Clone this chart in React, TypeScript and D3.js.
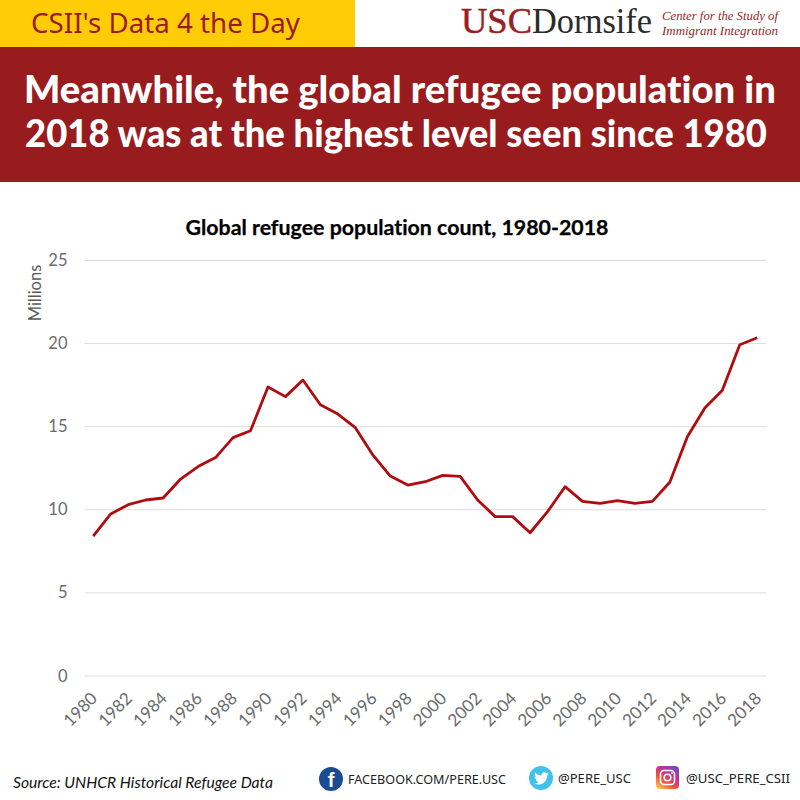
import React from "react";
import * as d3 from "d3";

const years = d3.range(1980, 2019).map(String);
const refugees = [8.42, 9.75, 10.31, 10.59, 10.71, 11.85, 12.6, 13.14, 14.34, 14.76, 17.39, 16.81, 17.81, 16.32, 15.76, 14.94, 13.3, 12.03, 11.49, 11.69, 12.07, 12.01, 10.59, 9.59, 9.59, 8.62, 9.89, 11.39, 10.51, 10.39, 10.55, 10.39, 10.51, 11.67, 14.4, 16.12, 17.19, 19.93, 20.35];
const yTicks = [0, 5, 10, 15, 20, 25];
const badgeText = "CSII's Data 4 the Day";
const headline = ["Meanwhile, the global refugee population in", "2018 was at the highest level seen since 1980"];
const chartTitle = "Global refugee population count, 1980-2018";
const yLabel = "Millions";
const sourceText = "Source: UNHCR Historical Refugee Data";

const x = d3.scaleBand().domain(years).range([84.5, 766]);
const y = d3.scaleLinear().domain([0, 25]).range([676, 260.5]);
const cx = (yr: string) => (x(yr) as number) + x.bandwidth() / 2;
const linePath = d3.line<number>().x((_, i) => cx(years[i])).y((d) => y(d))(refugees) as string;
const xLabels = years.filter((_, i) => i % 2 === 0);

const LATO = "Lato, Carlito, sans-serif";
const PLEX = "'Noto Sans', sans-serif";
const SERIF = "'Liberation Serif', serif";
const noLig = { fontVariantLigatures: "none" } as React.CSSProperties;

export default function App() {
  return (
    <svg width={800} height={800} viewBox="0 0 800 800" style={{ position: "fixed", left: 0, top: 0, display: "block", background: "#fff" }}>
      <defs>
        <linearGradient id="ig" x1="0.15" y1="1" x2="0.85" y2="0">
          <stop offset="0" stopColor="#fdc04f" />
          <stop offset="0.35" stopColor="#f0503c" />
          <stop offset="0.65" stopColor="#c8308f" />
          <stop offset="1" stopColor="#6a4cc4" />
        </linearGradient>
      </defs>
      <rect x={0} y={0} width={800} height={800} fill="#fff" />
      <rect x={0} y={0} width={355} height={47} fill="#ffcc05" />
      <rect x={0} y={47} width={800} height={135} fill="#981b1e" />
      <text x={31} y={33} fontFamily={PLEX} fontSize={27} fill="#9a1b1f" textLength={269} lengthAdjust="spacingAndGlyphs">{badgeText}</text>

      <text x={461} y={33} fontFamily={SERIF} fontSize={36.5} fill="#9a1f24" stroke="#9a1f24" strokeWidth={0.5} textLength={71} lengthAdjust="spacingAndGlyphs">USC</text>
      <text x={532} y={33} fontFamily={SERIF} fontSize={36.5} fill="#2b2b2b" textLength={120} lengthAdjust="spacingAndGlyphs">Dornsife</text>
      <text x={662} y={20} fontFamily={SERIF} fontStyle="italic" fontSize={13.5} fill="#9a1f24" textLength={116} lengthAdjust="spacingAndGlyphs">Center for the Study of</text>
      <text x={662} y={35} fontFamily={SERIF} fontStyle="italic" fontSize={13.5} fill="#9a1f24" textLength={116} lengthAdjust="spacingAndGlyphs">Immigrant Integration</text>

      <text x={24} y={103} fontFamily={LATO} fontWeight={900} fontSize={37} fill="#fff" style={noLig} textLength={752} lengthAdjust="spacingAndGlyphs">{headline[0]}</text>
      <text x={25} y={147} fontFamily={LATO} fontWeight={900} fontSize={37} fill="#fff" style={noLig} textLength={742} lengthAdjust="spacingAndGlyphs">{headline[1]}</text>

      <text x={397} y={235} textAnchor="middle" fontFamily={LATO} fontWeight={700} fontSize={20} fill="#000" stroke="#000" strokeWidth={0.25} style={noLig} textLength={423} lengthAdjust="spacingAndGlyphs">{chartTitle}</text>

      {yTicks.map((t) => (
        <g key={t}>
          <line x1={84.5} x2={766} y1={y(t)} y2={y(t)} stroke="#dcdcdc" strokeWidth={1} />
          <text x={67.5} y={y(t) + 5.5} textAnchor="end" fontFamily={LATO} fontSize={16.5} fill="#6b6b6b">{t}</text>
        </g>
      ))}
      <text transform="translate(41,293) rotate(-90)" textAnchor="middle" fontFamily={LATO} fontSize={16.5} fill="#595959">{yLabel}</text>

      {xLabels.map((yr) => (
        <text key={yr} transform={`translate(${cx(yr) + 0.5},${695}) rotate(-45)`} textAnchor="end" dominantBaseline="central" fontFamily={LATO} fontSize={17} fill="#6b6b6b">{yr}</text>
      ))}

      <path d={linePath} fill="none" stroke="#b00b0e" strokeWidth={2.8} strokeLinejoin="round" />

      <text x={13} y={788} fontFamily={LATO} fontStyle="italic" fontSize={16} fill="#111" style={noLig} textLength={260} lengthAdjust="spacingAndGlyphs">{sourceText}</text>

      <circle cx={331} cy={779} r={12} fill="#1b4b91" />
      <text x={331} y={787} textAnchor="middle" fontFamily="'Liberation Sans', sans-serif" fontWeight={700} fontSize={20} fill="#fff">f</text>
      <text x={348} y={784} fontFamily={PLEX} fontSize={12.5} fill="#222" textLength={158} lengthAdjust="spacingAndGlyphs">FACEBOOK.COM/PERE.USC</text>

      <circle cx={541} cy={778} r={12} fill="#3fc1ec" />
      <path d="M534 783.5 c5 2.6 12.5 .8 13.3 -8 l1.7 -1.7 l-2 .4 l1.4 -1.8 l-2.2 .8 c-1.8 -2 -5.2 -.6 -4.6 2.4 c-2.6 -.1 -4.8 -1.3 -6.4 -3.1 c-.9 1.6 -.4 3.4 1 4.4 l-1.6 -.4 c0 1.6 1 2.8 2.6 3.2 l-1.6 .1 c.5 1.3 1.6 2 3 2.2 c-1.3 1 -2.8 1.5 -4.6 1.5 z" fill="#fff" />
      <text x={558} y={783} fontFamily={PLEX} fontSize={12.5} fill="#222" textLength={73} lengthAdjust="spacingAndGlyphs">@PERE_USC</text>

      <rect x={656} y={766} width={23} height={23} rx={4} fill="url(#ig)" />
      <rect x={660.5} y={770.5} width={14} height={14} rx={3.5} fill="none" stroke="#fff" strokeWidth={1.6} />
      <circle cx={667.5} cy={777.5} r={3.3} fill="none" stroke="#fff" strokeWidth={1.6} />
      <circle cx={672} cy={773} r={0.9} fill="#fff" />
      <text x={686} y={783} fontFamily={PLEX} fontSize={12.5} fill="#222" textLength={104} lengthAdjust="spacingAndGlyphs">@USC_PERE_CSII</text>
    </svg>
  );
}
